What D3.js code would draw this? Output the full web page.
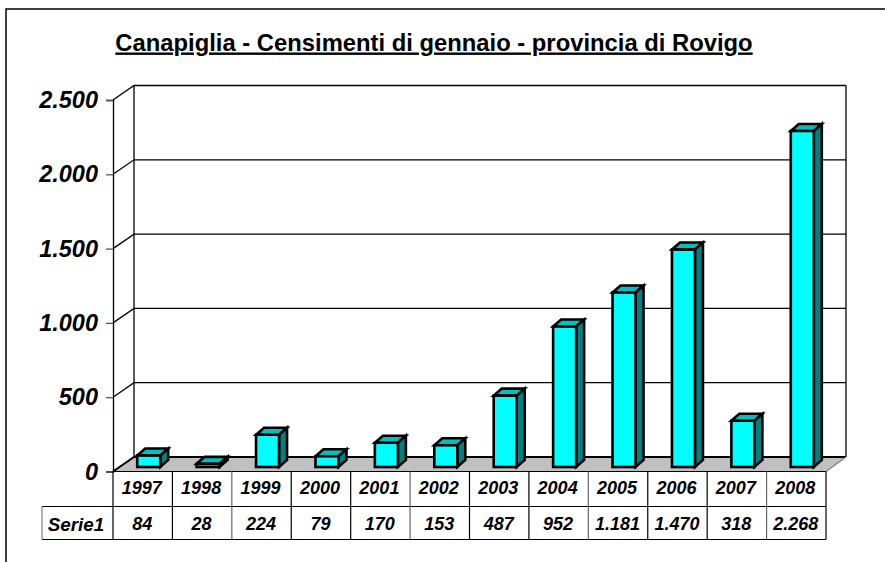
<!DOCTYPE html>
<html>
<head>
<meta charset="utf-8">
<script src="https://cdnjs.cloudflare.com/ajax/libs/d3/7.8.5/d3.min.js"></script>
<style>
  html, body { margin: 0; padding: 0; background: #fff; overflow: hidden; }
  text { font-family: "Liberation Sans", Arial, sans-serif; fill: #000; }
</style>
</head>
<body>
<div id="chart"></div>
<script>
const years = ["1997","1998","1999","2000","2001","2002","2003","2004","2005","2006","2007","2008"];
const serie1 = [84, 28, 224, 79, 170, 153, 487, 952, 1181, 1470, 318, 2268];
const yTicks = [0, 500, 1000, 1500, 2000, 2500];
const seriesName = "Serie1";
const title = "Canapiglia - Censimenti di gennaio - provincia di Rovigo";

const WIDTH = 885, HEIGHT = 562;
const PLOT = { LEFT: 113, RIGHT: 826, TOP: 100, BOTTOM: 471.5 };
const DEPTH = { X: 21, Y: -14.5 };
const TABLE = { ROW1: 506.5, ROW2: 539.5, LABEL_LEFT: 42 };

const it = d3.formatLocale({ decimal: ",", thousands: ".", grouping: [3], currency: ["", ""] });
const fmt = it.format(",d");

const svg = d3.select("#chart").append("svg")
    .attr("width", WIDTH)
    .attr("height", HEIGHT)
    .style("display", "block");

// chart frame, it runs off the window on the right and at the bottom
svg.append("rect")
    .attr("x", 6).attr("y", 9)
    .attr("width", WIDTH + 10).attr("height", HEIGHT + 10)
    .attr("fill", "#fff").attr("stroke", "#000").attr("stroke-width", 1.5);

const x = d3.scaleBand().domain(years).range([PLOT.LEFT, PLOT.RIGHT]);
const y = d3.scaleLinear().domain([0, 2500]).range([PLOT.BOTTOM, PLOT.TOP]);

// title
svg.append("text")
    .attr("x", 434).attr("y", 50.5)
    .attr("text-anchor", "middle")
    .attr("font-size", 23.8)
    .attr("font-weight", "bold")
    .attr("text-decoration", "underline")
    .text(title);

// floor
const floor = [
    [PLOT.LEFT, y(0)],
    [PLOT.LEFT + DEPTH.X, y(0) + DEPTH.Y],
    [PLOT.RIGHT + DEPTH.X - 1, y(0) + DEPTH.Y],
    [PLOT.RIGHT, y(0)]
];
svg.append("polygon")
    .attr("points", floor.join(" "))
    .attr("fill", "#c0c0c0");

// walls and grid
const walls = svg.append("g").attr("fill", "none").attr("stroke", "#000").attr("stroke-width", 1.3);
yTicks.forEach(t => {
    const yy = y(t);
    walls.append("path")
        .attr("stroke-width", t === 0 ? 2 : 1.3)
        .attr("d", d3.line()([
            [PLOT.LEFT, yy],
            [PLOT.LEFT + DEPTH.X, yy + DEPTH.Y],
            [PLOT.RIGHT + DEPTH.X - 1, yy + DEPTH.Y]
        ]));
});
walls.append("line")
    .attr("x1", PLOT.LEFT + DEPTH.X).attr("x2", PLOT.LEFT + DEPTH.X)
    .attr("y1", y(2500) + DEPTH.Y).attr("y2", y(0) + DEPTH.Y);
walls.append("line")
    .attr("x1", PLOT.RIGHT + DEPTH.X - 1).attr("x2", PLOT.RIGHT + DEPTH.X - 1)
    .attr("y1", y(2500) + DEPTH.Y).attr("y2", y(0) + DEPTH.Y);
walls.append("line")
    .attr("x1", PLOT.RIGHT).attr("x2", PLOT.RIGHT + DEPTH.X - 1)
    .attr("y1", y(0)).attr("y2", y(0) + DEPTH.Y)
    .attr("stroke", "#808080");

// y axis
const yAxis = d3.axisLeft(y)
    .tickValues(yTicks)
    .tickSize(7)
    .tickPadding(8)
    .tickFormat(fmt);
const yG = svg.append("g")
    .attr("transform", `translate(${PLOT.LEFT}, 0)`)
    .call(yAxis);
yG.select(".domain").attr("stroke", "#000").attr("stroke-width", 1.3);
yG.selectAll(".tick line").attr("stroke", "#555").attr("stroke-width", 1.3);
yG.selectAll("text")
    .attr("font-size", 23.5)
    .attr("font-weight", "bold")
    .style("font-style", "italic")
    .attr("fill", "#000");

// bars
const BAR_W = 23, BAR_DX = 8, BAR_DY = -7, BASE_DX = 5, TOP_DY = -3.5, BASE_DY = -4.5;
const bars = svg.append("g").selectAll("g")
    .data(years.map((yr, i) => ({ yr, v: serie1[i] })))
    .enter().append("g")
    .attr("stroke", "#000")
    .attr("stroke-width", 2.6)
    .attr("stroke-linejoin", "miter");

const barLeft = d => x(d.yr) + x.bandwidth() / 2 - BAR_W / 2 + BASE_DX + 1;
const barTop = d => y(d.v) + TOP_DY;
const barBase = () => y(0) + BASE_DY;

// top face
bars.append("polygon")
    .attr("fill", "#00c0c0")
    .attr("points", d => [
        [barLeft(d), barTop(d)],
        [barLeft(d) + BAR_DX, barTop(d) + BAR_DY],
        [barLeft(d) + BAR_W + BAR_DX, barTop(d) + BAR_DY],
        [barLeft(d) + BAR_W, barTop(d)]
    ].join(" "));
// side face
bars.append("polygon")
    .attr("fill", "#008080")
    .attr("points", d => [
        [barLeft(d) + BAR_W, barTop(d)],
        [barLeft(d) + BAR_W + BAR_DX, barTop(d) + BAR_DY],
        [barLeft(d) + BAR_W + BAR_DX, barBase() + BAR_DY],
        [barLeft(d) + BAR_W, barBase()]
    ].join(" "));
// front face
bars.append("rect")
    .attr("fill", "#00ffff")
    .attr("x", barLeft)
    .attr("y", barTop)
    .attr("width", BAR_W)
    .attr("height", d => barBase() - barTop(d));

// data table
const table = svg.append("g").attr("stroke", "#000").attr("stroke-width", 1.2);
table.append("line")
    .attr("x1", PLOT.LEFT).attr("x2", PLOT.RIGHT)
    .attr("y1", PLOT.BOTTOM).attr("y2", PLOT.BOTTOM);
table.append("line")
    .attr("x1", TABLE.LABEL_LEFT).attr("x2", PLOT.RIGHT)
    .attr("y1", TABLE.ROW1).attr("y2", TABLE.ROW1);
table.append("line")
    .attr("x1", TABLE.LABEL_LEFT).attr("x2", PLOT.RIGHT)
    .attr("y1", TABLE.ROW2).attr("y2", TABLE.ROW2);
table.append("line")
    .attr("x1", TABLE.LABEL_LEFT).attr("x2", TABLE.LABEL_LEFT)
    .attr("y1", TABLE.ROW1).attr("y2", TABLE.ROW2)
    .attr("stroke", "#808080");
table.selectAll("line.col")
    .data(years.map(d => x(d)).concat(PLOT.RIGHT))
    .enter().append("line")
    .attr("class", "col")
    .attr("x1", d => d).attr("x2", d => d)
    .attr("y1", PLOT.BOTTOM).attr("y2", TABLE.ROW2)
    .attr("stroke", (d, i) => i % 3 === 2 ? "#666" : "#000");

const tableText = svg.append("g")
    .attr("font-size", 18)
    .attr("font-weight", "bold")
    .attr("font-style", "italic")
    .attr("text-anchor", "middle");
tableText.selectAll("text.year")
    .data(years)
    .enter().append("text")
    .attr("class", "year")
    .attr("x", d => x(d) + x.bandwidth() / 2 - 1)
    .attr("y", 494)
    .text(d => d);
tableText.selectAll("text.val")
    .data(serie1)
    .enter().append("text")
    .attr("class", "val")
    .attr("x", (d, i) => x(years[i]) + x.bandwidth() / 2 - 0.5)
    .attr("y", 530)
    .text(d => fmt(d));
tableText.append("text")
    .attr("x", 76).attr("y", 531)
    .attr("font-size", 18.8)
    .text(seriesName);
</script>
</body>
</html>
